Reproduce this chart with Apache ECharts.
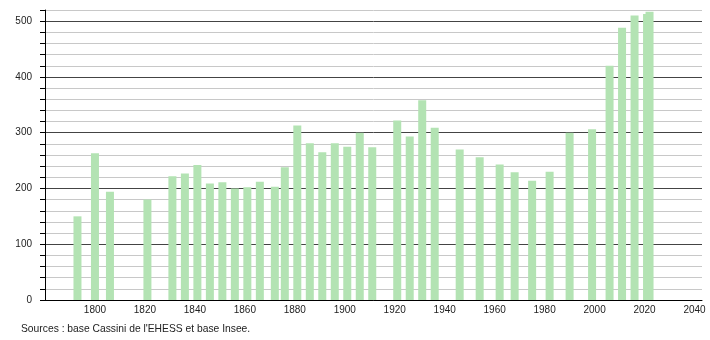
<!DOCTYPE html>
<html>
<head>
<meta charset="utf-8">
<script src="https://cdn.jsdelivr.net/npm/echarts@6/dist/echarts.min.js"></script>
<style>
html,body{margin:0;padding:0;background:#fff;}
#c{width:710px;height:340px;}
</style>
</head>
<body>
<div id="c"></div>
<script>
const years = [1793,1800,1806,1821,1831,1836,1841,1846,1851,1856,1861,1866,1872,1876,1881,1886,1891,1896,1901,1906,1911,1921,1926,1931,1936,1946,1954,1962,1968,1975,1982,1990,1999,2006,2011,2016,2021,2022];
const population = [150,263,194,180,222,227,242,209,211,200,202,212,203,238,313,281,265,281,275,300,274,322,293,358,309,270,256,243,229,214,230,300,306,420,488,510,513,517];
const xTickLabels = [1800,1820,1840,1860,1880,1900,1920,1940,1960,1980,2000,2020,2040];
const yTickLabels = [0,100,200,300,400,500];
const sourceText = "Sources : base Cassini de l'EHESS et base Insee.";

const chart = echarts.init(document.getElementById('c'), null, {renderer:'canvas'});
const font = "'Liberation Sans', Arial, sans-serif";
chart.setOption({
  animation:false,
  backgroundColor:'#fff',
  textStyle:{fontFamily:font},
  grid:{left:45,right:8,top:10,bottom:40,containLabel:false},
  graphic:[{type:'text',left:21,top:324,style:{text:sourceText,font:"10.3px "+font,fill:'#222'}}],
  xAxis:{
    type:'value',min:1780,max:2043,
    axisLine:{show:true,onZero:false,lineStyle:{color:'#000',width:1}},
    axisTick:{show:false},
    splitLine:{show:false},
    axisLabel:{customValues:xTickLabels,color:'#222',fontSize:10,fontFamily:font,margin:5,
      formatter:v=>String(v)}
  },
  yAxis:{
    type:'value',min:0,max:520,interval:20,
    axisLine:{show:true,lineStyle:{color:'#000',width:1}},
    axisTick:{show:true,length:5,inside:false,interval:0,lineStyle:{color:'#000',width:1}},
    splitLine:{show:true,lineStyle:{color:['#444','#c8c8c8','#c8c8c8','#c8c8c8','#c8c8c8'],width:1}},
    axisLabel:{color:'#222',fontSize:10,fontFamily:font,margin:13,interval:0,
      formatter:v=>yTickLabels.indexOf(v)>=0?String(v):''}
  },
  series:[{
    type:'bar',
    barWidth:8,
    itemStyle:{color:'#b3e3b3'},
    data:years.map((y,i)=>[y,population[i]])
  }]
});
</script>
</body>
</html>
